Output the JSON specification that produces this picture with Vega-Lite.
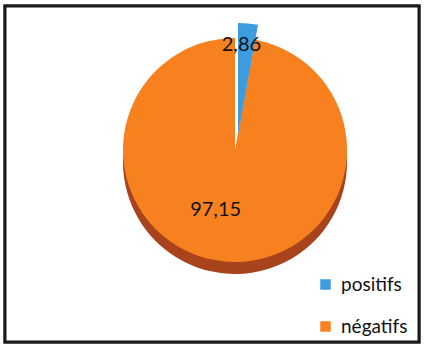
{
  "$schema": "https://vega.github.io/schema/vega-lite/v6.json",
  "width": 427,
  "height": 351,
  "autosize": {"type": "fit", "contains": "padding"},
  "padding": {"left": 3, "top": 4, "right": 6, "bottom": 7},
  "background": "white",
  "config": {
    "view": {"stroke": null},
    "font": "Lato"
  },
  "data": {
    "values": [
      {"cat": "positifs", "value": 2.86, "label": "2,86"},
      {"cat": "négatifs", "value": 97.15, "label": "97,15"}
    ]
  },
  "layer": [
    {
      "mark": {"type": "rect", "fill": "white", "stroke": "#1a1a1a", "strokeWidth": 3},
      "encoding": {}
    },
    {
      "mark": {"type": "arc", "radius": 112, "xOffset": 23, "yOffset": -12},
      "encoding": {
        "theta": {"field": "value", "type": "quantitative", "stack": true},
        "order": {"field": "value", "type": "quantitative", "sort": "ascending"},
        "color": {
          "condition": {"test": "datum.cat === 'positifs'", "value": "transparent"},
          "value": "#a9431c"
        }
      }
    },
    {
      "mark": {"type": "arc", "radius": 112, "xOffset": 23, "yOffset": -24},
      "encoding": {
        "theta": {"field": "value", "type": "quantitative", "stack": true},
        "order": {"field": "value", "type": "quantitative", "sort": "ascending"},
        "color": {
          "field": "cat",
          "type": "nominal",
          "scale": {"domain": ["positifs", "négatifs"], "range": ["#3d9be0", "#f7811f"]},
          "legend": {
            "orient": "none",
            "legendX": 311,
            "legendY": 269,
            "title": null,
            "symbolType": "square",
            "symbolSize": 110,
            "symbolStrokeWidth": 0,
            "labelFont": "Lato",
            "labelFontSize": 19,
            "labelColor": "#111",
            "rowPadding": 22,
            "labelOffset": 6
          }
        },
        "opacity": {
          "condition": {"test": "datum.cat === 'positifs'", "value": 0},
          "value": 1
        }
      }
    },
    {
      "mark": {"type": "arc", "radius": 112, "xOffset": 26, "yOffset": -39},
      "encoding": {
        "theta": {"field": "value", "type": "quantitative", "stack": true},
        "order": {"field": "value", "type": "quantitative", "sort": "ascending"},
        "color": {"field": "cat", "type": "nominal"},
        "opacity": {
          "condition": {"test": "datum.cat === 'positifs'", "value": 1},
          "value": 0
        }
      }
    },
    {
      "mark": {"type": "text", "radius": 105, "xOffset": 20, "yOffset": -24, "fontSize": 20, "color": "#111", "font": "Lato"},
      "encoding": {
        "theta": {"field": "value", "type": "quantitative", "stack": true},
        "order": {"field": "value", "type": "quantitative", "sort": "ascending"},
        "text": {
          "condition": {"test": "datum.cat === 'positifs'", "field": "label"},
          "value": ""
        }
      }
    },
    {
      "mark": {"type": "text", "radius": 60, "xOffset": 9, "yOffset": -24, "fontSize": 20, "color": "#111", "font": "Lato"},
      "encoding": {
        "theta": {"field": "value", "type": "quantitative", "stack": true},
        "order": {"field": "value", "type": "quantitative", "sort": "ascending"},
        "text": {
          "condition": {"test": "datum.cat === 'négatifs'", "field": "label"},
          "value": ""
        }
      }
    }
  ]
}
